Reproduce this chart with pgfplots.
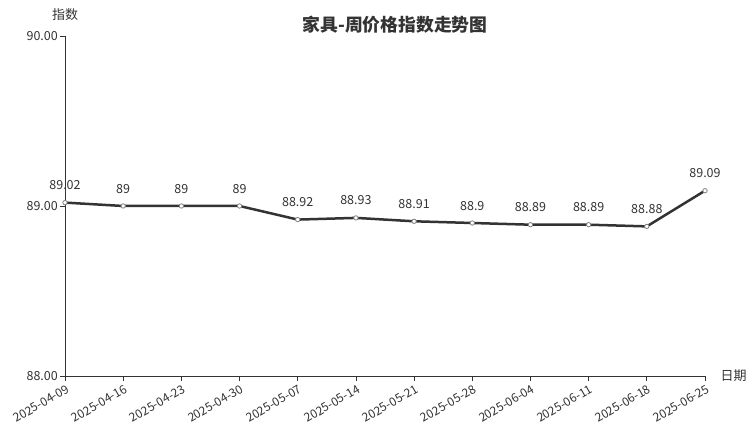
\documentclass[border=0pt]{standalone}
\usepackage{pgfplots}
\pgfplotsset{compat=1.18}
\usepackage{fontspec}
\setmainfont{Noto Sans CJK SC}
\definecolor{txt}{HTML}{333333}
\definecolor{ln}{HTML}{333333}
\begin{document}
\begin{tikzpicture}
\path[use as bounding box] (0pt,0pt) rectangle (752pt,427pt);
\begin{axis}[
  at={(65pt,51pt)}, anchor=south west,
  scale only axis, width=640pt, height=340pt,
  xmin=0, xmax=11, ymin=88, ymax=90,
  clip=false,
  axis x line=bottom, axis y line=left,
  axis line style={-, color=txt, line width=0.8pt},
  xtick={0,...,11},
  xticklabels={2025-04-09,2025-04-16,2025-04-23,2025-04-30,2025-05-07,2025-05-14,2025-05-21,2025-05-28,2025-06-04,2025-06-11,2025-06-18,2025-06-25},
  x tick label style={rotate=30, anchor=north east, font=\fontsize{12}{13}\selectfont, text=txt, inner sep=1pt, yshift=-2pt},
  ytick={88,89,90},
  yticklabel style={/pgf/number format/.cd, fixed, fixed zerofill, precision=2, /tikz/.cd, font=\fontsize{12.5}{13}\selectfont, text=txt, inner sep=2pt},
  /pgf/number format/assume math mode=true,
  tick style={color=txt, line width=0.8pt},
  major tick length=5pt,
  tick align=outside,
  nodes near coords,
  nodes near coords style={font=\fontsize{12.5}{13}\selectfont, text=txt, anchor=south, yshift=9pt},
]
\addplot[color=ln, line width=2.5pt, mark=*, mark size=2.2pt, mark options={fill=white, draw=gray, line width=0.8pt}] coordinates {
(0,89.02) (1,89) (2,89) (3,89) (4,88.92) (5,88.93) (6,88.91) (7,88.9) (8,88.89) (9,88.89) (10,88.88) (11,89.09)
};
\end{axis}
\node[font=\fontsize{13}{14}\selectfont, text=txt] at (65pt,412pt) {指数};
\node[font=\fontsize{13}{14}\selectfont, text=txt, anchor=west] at (717pt,51pt) {日期};
\node[font=\bfseries\fontsize{17.8}{19}\selectfont, text=txt] at (395pt,402pt) {家具-周价格指数走势图};
\end{tikzpicture}
\end{document}
